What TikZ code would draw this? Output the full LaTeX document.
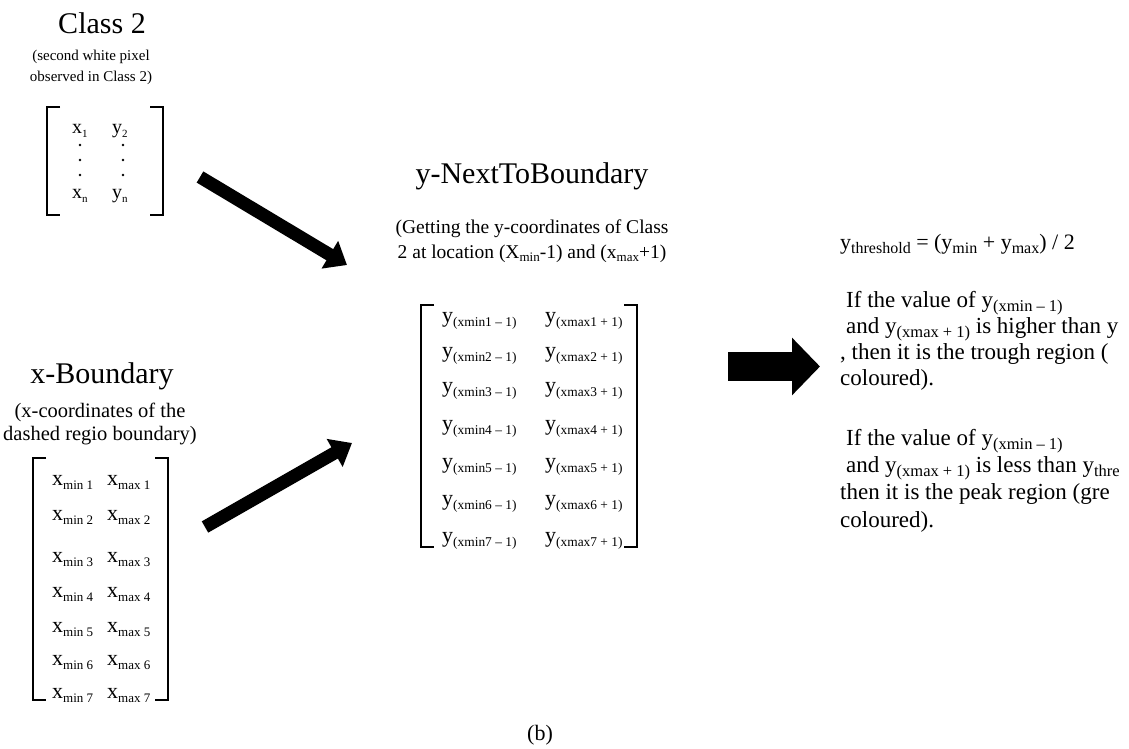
\documentclass[tikz,border=0pt]{standalone}
\usepackage{fontspec}
\setmainfont{Liberation Serif}
\usetikzlibrary{arrows.meta}
\newcommand{\lsub}[2]{\raisebox{-0.2em}{\fontsize{#1}{#1}\selectfont #2}}
\def\matbrackets(#1,#2)(#3,#4){%
	\draw[brack] (#1+13,#2) -- (#1,#2) -- (#1,#4) -- (#1+13,#4);
	\draw[brack] (#3-13,#2) -- (#3,#2) -- (#3,#4) -- (#3-13,#4);}

\begin{document}
\begin{tikzpicture}[x=1pt,y=-1pt,
		headtext/.style={font=\fontsize{30}{34}\selectfont, anchor=base, inner sep=0pt},
		subtext/.style={font=\fontsize{#1}{#1}\selectfont, anchor=base, inner sep=0pt},
		cell/.style={font=\fontsize{22}{24}\selectfont, anchor=base west, inner sep=0pt},
		para/.style={font=\fontsize{23}{25}\selectfont, anchor=base west, inner sep=0pt},
		brack/.style={line width=1.3pt},
		fatarrow/.style={line width=13pt, -{Triangle[width=31pt,length=20pt]}},
		blockarrow/.style={line width=29pt, -{Triangle[width=56pt,length=28pt]}}]
		\useasboundingbox (0,0) rectangle (1129,749);
		%%%%% START %%%%%
		% class 2
		\node[headtext] (cls) at (102,34) {Class 2};
		\node[subtext=15] (clsa) at (91,61) {(second white pixel};
		\node[subtext=15] (clsb) at (91,82) {observed in Class 2)};
		\matbrackets(47,107)(163,215)
		\node[cell, font=\fontsize{20}{22}\selectfont] (cx1) at (72,133) {x\lsub{11}{1}};
		\node[cell, font=\fontsize{20}{22}\selectfont] (cy1) at (112,133) {y\lsub{11}{2}};
		\node[cell, font=\fontsize{20}{22}\selectfont] (cxn) at (72,198) {x\lsub{11}{n}};
		\node[cell, font=\fontsize{20}{22}\selectfont] (cyn) at (112,198) {y\lsub{11}{n}};
		\foreach \yy in {145,160,175} {
			\fill (80,\yy) circle (1.3);
			\fill (123,\yy) circle (1.3);
		}
		
		% x-boundary
		\node[headtext] (xb) at (102,383) {x-Boundary};
		\node[subtext=20.5] (xba) at (100,417) {(x-coordinates of the};
		\node[subtext=20.5] (xbb) at (100,440) {dashed regio boundary)};
		\matbrackets(33,458)(168,700)
		\foreach \i/\yy in {1/485,2/520,3/562,4/597,5/632,6/665,7/698} {
			\node[cell] (xmin\i) at (52,\yy) {x\lsub{13}{min \i}};
			\node[cell] (xmax\i) at (107,\yy) {x\lsub{13}{max \i}};
		}
		
		% y-next to boundary
		\node[headtext] (yn) at (532,183) {y-NextToBoundary};
		\node[subtext=19.5] (yna) at (532,233) {(Getting the y-coordinates of Class};
		\node[subtext=19.5] (ynb) at (532,258) {2 at location (X\lsub{13}{min}-1) and (x\lsub{13}{max}+1)};
		\matbrackets(421,305)(637,547)
		\foreach \i/\yy in {1/322,2/357,3/392,4/430,5/468,6/505,7/542} {
			\node[cell] (ylo\i) at (442,\yy) {y\lsub{13.4}{(xmin\i{} – 1)}};
			\node[cell] (yhi\i) at (545,\yy) {y\lsub{13.4}{(xmax\i{} + 1)}};
		}
		
		% rule text
		\node[para, font=\fontsize{22}{24}\selectfont] (thr) at (840,249) {y\lsub{16}{threshold} = (y\lsub{16}{min} + y\lsub{16}{max}) / 2};
		\node[para] (pa1) at (846,307) {If the value of y\lsub{16.5}{(xmin – 1)}};
		\node[para] (pa2) at (846,333) {and y\lsub{16.5}{(xmax + 1)} is higher than y};
		\node[para] (pa3) at (840,359) {, then it is the trough region (};
		\node[para] (pa4) at (840,385) {coloured).};
		\node[para] (pb1) at (846,445) {If the value of y\lsub{16.5}{(xmin – 1)}};
		\node[para] (pb2) at (846,472) {and y\lsub{16.5}{(xmax + 1)} is less than y\lsub{16.5}{thre}};
		\node[para] (pb3) at (840,499) {then it is the peak region (gre};
		\node[para] (pb4) at (840,527) {coloured).};
		
		\node[subtext=22] (cap) at (540,740) {(b)};
		
		% arrows
		\coordinate (a1s) at (200,177);
		\coordinate (a1e) at (347,265);
		\coordinate (a2s) at (205,527);
		\coordinate (a2e) at (352,443);
		\coordinate (a3s) at (728,366.5);
		\coordinate (a3e) at (820,366.5);
		\draw[fatarrow] (a1s) -- (a1e);
		\draw[fatarrow] (a2s) -- (a2e);
		\draw[blockarrow] (a3s) -- (a3e);
		%%%%% END %%%%%
\end{tikzpicture}
\end{document}
